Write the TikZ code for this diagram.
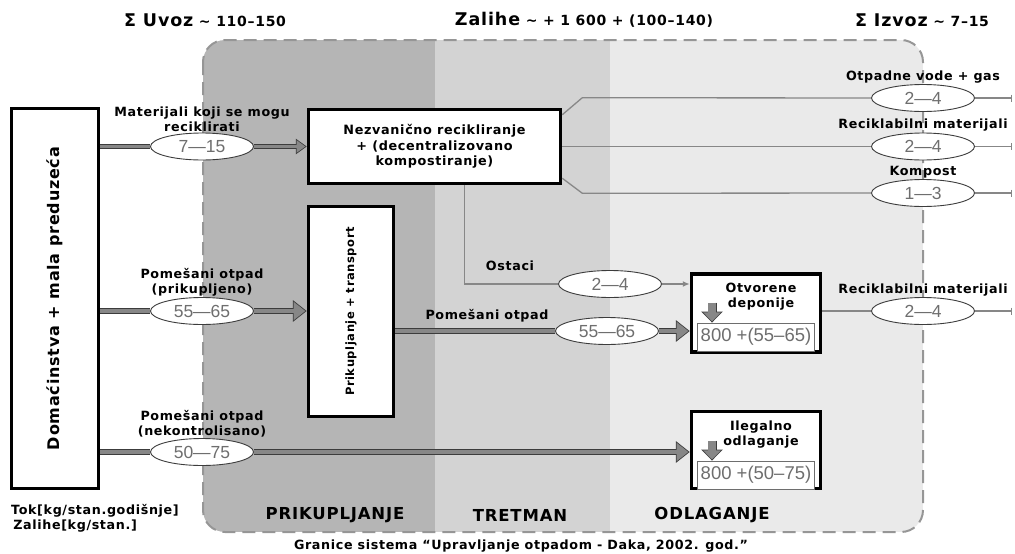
\documentclass[tikz,border=0pt]{standalone}
\usepackage{fontspec}
\setmainfont{DejaVu Sans}[LetterSpace=5]
\newfontfamily\numfont{Liberation Sans}
\usetikzlibrary{arrows.meta,shapes.geometric}
\definecolor{banda}{RGB}{181,181,181}
\definecolor{bandb}{RGB}{211,211,211}
\definecolor{bandc}{RGB}{234,234,234}
\definecolor{edgec}{RGB}{150,150,150}
\definecolor{flowc}{RGB}{135,135,135}
\definecolor{inkdark}{RGB}{60,60,60}
\definecolor{numc}{RGB}{110,110,110}

\begin{document}
\begin{tikzpicture}[x=1pt,y=-1pt,
  box/.style={draw,line width=3.5pt,fill=white},
  num/.style={ellipse,draw=inkdark,line width=0.9pt,fill=white,minimum width=103pt,
    minimum height=27pt,inner sep=0pt,text=numc,font=\numfont\fontsize{17.5}{17.5}\selectfont},
  lab/.style={font=\fontsize{12.7}{15}\selectfont\bfseries,align=center,inner sep=1pt},
  numbox/.style={draw=numc,line width=0.9pt,fill=white,minimum width=117pt,minimum height=28pt,
    inner sep=0pt,text=numc,font=\numfont\fontsize{18.5}{18.5}\selectfont},
  fatline/.style={draw=inkdark,line width=6.2pt,postaction={draw=flowc,line width=4.6pt}},
  fatflow/.style={draw=inkdark,line width=6.2pt,-{Triangle[length=14pt,width=21pt]},
    postaction={draw=flowc,line width=4.6pt,shorten >=1.4pt,-{Triangle[length=11.8pt,width=17.7pt]}}},
  downflow/.style={draw=inkdark,line width=9pt,-{Triangle[length=11pt,width=21pt]},
    postaction={draw=flowc,line width=7.4pt,shorten >=1.2pt,-{Triangle[length=9pt,width=17.2pt]}}},
  slimline/.style={draw=inkdark,line width=4.2pt,postaction={draw=flowc,line width=2.6pt}},
  slimflow/.style={draw=inkdark,line width=4.2pt,-{Triangle[length=11pt,width=15pt]},
    postaction={draw=flowc,line width=2.6pt,shorten >=1.4pt,-{Triangle[length=8.8pt,width=12pt]}}},
  thinout/.style={draw=flowc,line width=1.3pt},
  endbar/.style={-{Bar[width=7pt,line width=1.3pt]}},
  total/.style={font=\fontsize{14}{14}\selectfont\bfseries}]
\useasboundingbox (0,0) rectangle (1015,554);
% system boundary and the three stages
\begin{scope}
  \clip[rounded corners=22pt] (203,40) rectangle (923,532);
  \fill[banda] (203,40) rectangle (435,532);
  \fill[bandb] (435,40) rectangle (610,532);
  \fill[bandc] (610,40) rectangle (923,532);
\end{scope}
\draw[edgec,line width=2pt,dash pattern=on 13pt off 7pt,rounded corners=22pt] (203,40) rectangle (923,532);
\foreach \s/\x/\t in {prik/335/PRIKUPLJANJE,tret/520/TRETMAN,odl/712/ODLAGANJE}
  \node[font=\fontsize{16.5}{16.5}\selectfont\bfseries] (\s-band) at (\x,515) {\t};
\node[lab] (granice) at (521,546) {Granice sistema “Upravljanje otpadom - Daka, 2002. god.”};

% totals on top
\node[total] (uvoz) at (205,20) {{\fontsize{17.5}{17.5}\selectfont Σ Uvoz} \textasciitilde\ 110–150};
\node[total] (zalihe) at (584,20) {{\fontsize{17.5}{17.5}\selectfont Zalihe} \textasciitilde\ + 1 600 + (100–140)};
\node[total] (izvoz) at (922,20) {{\fontsize{17.5}{17.5}\selectfont Σ Izvoz} \textasciitilde\ 7–15};

% boxes
\node[box,minimum width=87pt,minimum height=380pt] (dom) at (55,298.5) {};
\node[rotate=90,font=\fontsize{16}{16}\selectfont\bfseries] (dom-t) at (dom) {Domaćinstva + mala preduzeća};
\node[box,minimum width=252pt,minimum height=74pt,align=center,
  font=\fontsize{12.8}{15.5}\selectfont\bfseries] (nez) at (434.5,146.5)
  {Nezvanično recikliranje\\+ (decentralizovano\\kompostiranje)};
\node[box,minimum width=85pt,minimum height=210pt] (prik) at (351,311.5) {};
\node[rotate=90,font=\fontsize{11.5}{11.5}\selectfont\bfseries] (prik-t) at (prik) {Prikupljanje + transport};
\node[box,minimum width=129pt,minimum height=78pt] (otv) at (756,313) {};
\node[lab] (otv-t) at (761,297) {Otvorene\\deponije};
\node[numbox] (otv-n) at (756,337) {800 +(55–65)};
\node[box,minimum width=129pt,minimum height=77pt] (ileg) at (756,450) {};
\node[lab] (ileg-t) at (761,435) {Ilegalno\\odlaganje};
\node[numbox] (ileg-n) at (756,475) {800 +(50–75)};
\draw[downflow] ([xshift=-44pt,yshift=20pt]otv-n.north) -- ([xshift=-44pt]otv-n.north);
\draw[downflow] ([xshift=-44pt,yshift=20pt]ileg-n.north) -- ([xshift=-44pt]ileg-n.north);
\node[lab,anchor=west,align=left] (units) at (10,518) {Tok[kg/stan.godišnje]\\\,Zalihe[kg/stan.]};

% flows out of the households
\node[num] (rec) at (202,146.5) {7—15};
\node[lab,above] (rec-t) at (rec.north) {Materijali koji se mogu\\reciklirati};
\draw[slimline] (dom.east |- rec) -- (rec);
\draw[slimflow] (rec) -- (nez.west |- rec);
\node[num] (pom) at (202,311) {55—65};
\node[lab,above] (pom-t) at (pom.north) {Pomešani otpad\\(prikupljeno)};
\draw[fatline] (dom.east |- pom) -- (pom);
\draw[fatflow] (pom) -- (prik.west |- pom);
\node[num] (nek) at (202,452) {50—75};
\node[lab,above] (nek-t) at (nek.north) {Pomešani otpad\\(nekontrolisano)};
\draw[fatline] (dom.east |- nek) -- (nek);
\draw[fatflow] (nek) -- (ileg.west |- nek);

% collected waste and residues to the dumps
\node[num] (pomb) at (607,331) {55—65};
\node[lab] (pomb-t) at (487,316) {Pomešani otpad};
\draw[fatline] (prik.east |- pomb) -- (pomb);
\draw[fatflow] (pomb) -- (otv.west |- pomb);
\node[num] (ost) at (610,284) {2—4};
\node[lab] (ost-t) at (510,266) {Ostaci};
\draw[thinout] ([xshift=30pt]nez.south) |- (ost);
\draw[thinout,-{Latex[length=7pt,width=6pt]}] (ost) -- (otv.west |- ost);

% exports
\foreach \n/\y/\v/\t in {voda/98/2—4/Otpadne vode + gas,recm/146.5/2—4/Reciklabilni materijali,
    komp/193/1—3/Kompost,reco/311/2—4/Reciklabilni materijali} {
  \node[num] (\n) at (923,\y) {\v};
  \node[lab,above] (\n-t) at (\n.north) {\t};
  \coordinate (\n-end) at (1012,\y);
  \draw[thinout,endbar] (\n) -- (\n-end);
}
\draw[thinout] ([yshift=-7pt]nez.north east) -- ++(20,-17) -- (voda);
\draw[thinout] (nez.east) -- (recm);
\draw[thinout] ([yshift=7pt]nez.south east) -- ++(20,15) -- (komp);
\draw[thinout] (otv.east |- reco) -- (reco);
\end{tikzpicture}
\end{document}
